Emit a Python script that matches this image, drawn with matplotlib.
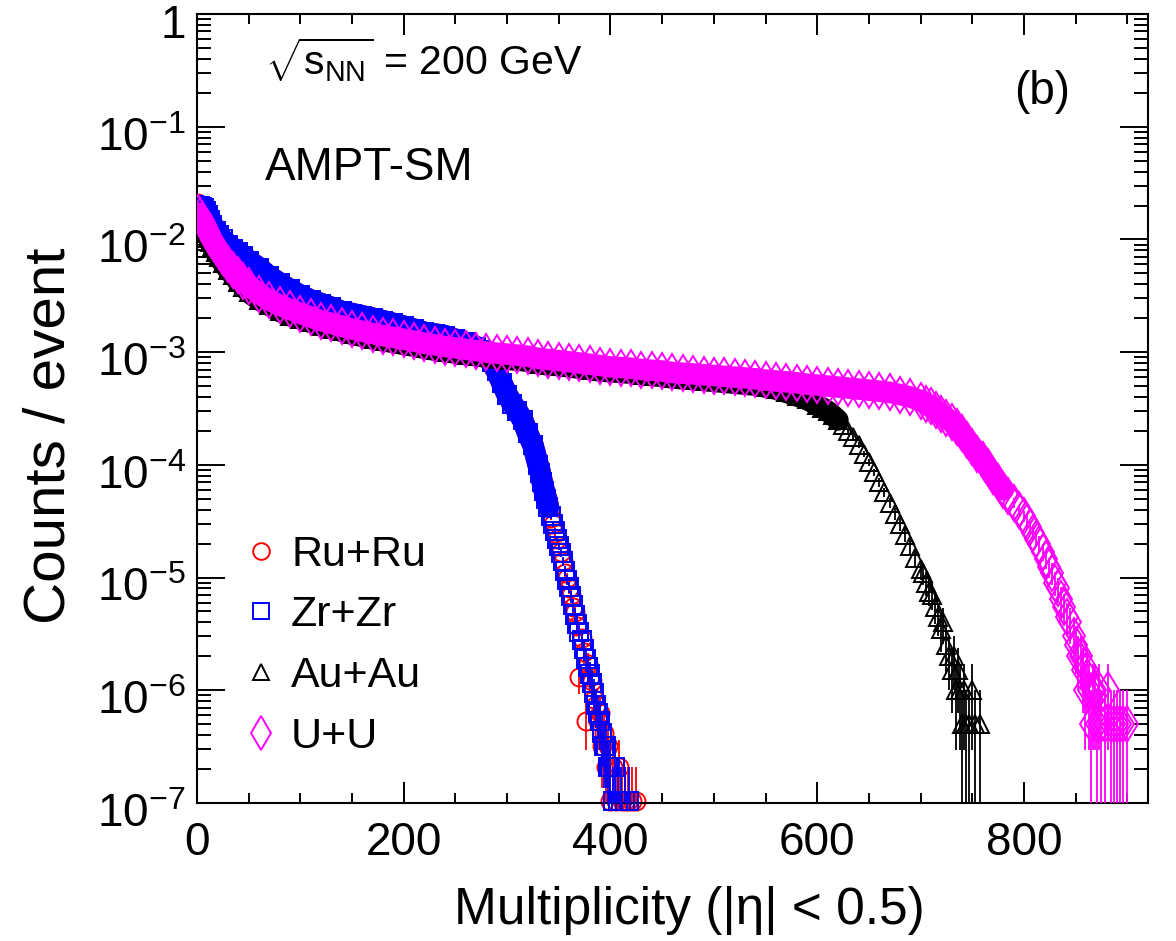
import numpy as np
import matplotlib
matplotlib.use('Agg')
import matplotlib.pyplot as plt
from matplotlib.lines import Line2D
from matplotlib.patches import Rectangle
from matplotlib.transforms import ScaledTranslation
from matplotlib.ticker import MultipleLocator, LogLocator, FixedLocator, FuncFormatter, NullFormatter

plt.rcParams['font.family'] = ['Liberation Sans', 'DejaVu Sans']
plt.rcParams['mathtext.fontset'] = 'custom'
plt.rcParams['mathtext.rm'] = 'Liberation Sans'
plt.rcParams['mathtext.it'] = 'Liberation Sans:italic'
plt.rcParams['mathtext.sf'] = 'Liberation Sans'

# multiplicity distributions, counts per event
ru_mult = [1, 3, 5, 7, 9, 11, 13, 15, 18, 21, 25, 30, 35, 40, 45, 50, 60, 70, 80, 90,
           100, 110, 120, 130, 140, 150, 160, 170, 180, 190, 200, 210, 220, 230, 240,
           250, 260, 270, 275, 280, 285, 290, 295, 300, 305, 310, 315, 320, 325,
           330, 332, 334, 336, 338, 340, 342, 344, 346, 348, 350, 352, 354, 356, 358,
           360, 362, 364, 366, 368, 370, 372, 374, 376, 378, 380, 382, 384, 386, 388,
           390, 392, 394, 396, 398, 400, 402, 405, 408, 411, 414, 417, 421, 425]
ru_counts = [0.0205, 0.0200, 0.0193, 0.0188, 0.0178, 0.0163, 0.0150, 0.0136, 0.0121, 0.0110,
             0.0100, 0.0091, 0.0083, 0.0077, 0.0071, 0.0065, 0.0056, 0.0047, 0.0041, 0.0036,
             0.0032, 0.0029, 0.0027, 0.0025, 0.0023, 0.0022, 0.0021, 0.0020, 0.0019, 0.0018,
             0.0017, 0.0016, 0.0015, 0.00145, 0.0014, 0.0013, 0.00122, 0.00112, 0.00104,
             0.00094, 0.00081, 0.00067, 0.00053, 0.00042, 0.00035, 0.00030, 0.00025,
             0.00019, 0.00015,
             1.0e-4, 8.7e-5, 7.1e-5, 5.8e-5, 5.1e-5, 4.3e-5, 3.4e-5, 3.0e-5, 2.5e-5, 2.2e-5,
             1.9e-5, 1.7e-5, 1.4e-5, 1.1e-5, 9.9e-6, 8.0e-6, 7.0e-6, 5.5e-6, 4.9e-6, 3.7e-6,
             1.3e-6, 2.9e-6, 2.2e-6, 5.3e-7, 1.7e-6, 1.3e-6, 1.2e-6, 8.4e-7, 7.4e-7, 5.3e-7,
             6.3e-7, 3.2e-7, 4.2e-7, 2.1e-7, 3.2e-7, 1.05e-7, 2.1e-7, 1.05e-7, 2.1e-7,
             1.05e-7, 1.05e-7, 1.05e-7, 1.05e-7, 1.05e-7]

zr_mult = [1, 3, 5, 7, 9, 11, 13, 15, 18, 21, 25, 30, 35, 40, 45, 50, 60, 70, 80, 90,
           100, 110, 120, 130, 140, 150, 160, 170, 180, 190, 200, 210, 220, 230, 240,
           250, 260, 270, 275, 280, 285, 290, 295, 300, 305, 310, 315, 320, 325,
           330, 332, 334, 336, 338, 340, 342, 344, 346, 348, 350, 352, 354, 356, 358,
           360, 362, 364, 366, 368, 370, 372, 374, 376, 378, 380, 382, 384, 386, 388,
           390, 392, 394, 396, 398, 400, 402, 404, 407, 410, 414, 418]
zr_counts = [0.0200, 0.0200, 0.0195, 0.0190, 0.0180, 0.0165, 0.0150, 0.0135, 0.0120, 0.0110,
             0.0100, 0.0090, 0.0083, 0.0077, 0.0071, 0.0065, 0.0056, 0.0047, 0.0041, 0.0036,
             0.0032, 0.0029, 0.0027, 0.0025, 0.0023, 0.0022, 0.0021, 0.0020, 0.0019, 0.0018,
             0.0017, 0.0016, 0.0015, 0.00145, 0.0014, 0.0013, 0.00122, 0.00112, 0.00105,
             0.00095, 0.00082, 0.00068, 0.00053, 0.00042, 0.00035, 0.00030, 0.00025,
             0.00019, 0.00015,
             1.0e-4, 8.5e-5, 7.0e-5, 5.9e-5, 5.0e-5, 4.2e-5, 3.5e-5, 3.0e-5, 2.6e-5, 2.2e-5,
             1.9e-5, 1.65e-5, 1.4e-5, 1.15e-5, 9.6e-6, 8.2e-6, 6.8e-6, 5.7e-6, 4.7e-6, 3.9e-6,
             3.3e-6, 2.8e-6, 2.3e-6, 1.9e-6, 1.6e-6, 1.4e-6, 1.15e-6, 9.4e-7, 7.4e-7, 6.3e-7,
             5.3e-7, 4.2e-7, 3.2e-7, 3.2e-7, 2.1e-7, 2.1e-7, 1.05e-7, 2.1e-7, 1.05e-7,
             1.05e-7, 1.05e-7, 1.05e-7]

au_mult = [1, 3, 5, 7, 9, 11, 13, 15, 18, 21, 25, 30, 35, 40, 45, 50, 60, 70, 80, 90,
           100, 110, 120, 130, 140, 150, 160, 170, 180, 190, 200, 210, 220, 230, 240,
           250, 260, 270, 280, 290, 300, 310, 320, 330, 340, 350, 360, 370, 380, 390,
           400, 410, 420, 430, 440, 450, 460, 470, 480, 490, 500, 510, 520, 530, 540,
           550, 560, 570, 580, 590, 600, 605, 610, 615, 620, 625, 630, 635, 640, 645,
           650, 655, 660, 665, 670, 675, 680, 685, 690, 695, 700, 702, 705, 708, 711,
           714, 717, 720, 722, 725, 727, 730, 732, 734, 736, 738, 740, 742, 744, 747,
           750, 753, 757]
au_counts = [0.0150, 0.0141, 0.0132, 0.0123, 0.0113, 0.0103, 0.0094, 0.0086, 0.0077, 0.0070,
             0.0062, 0.0054, 0.0048, 0.0042, 0.0038, 0.0034, 0.0029, 0.0026, 0.0023, 0.0021,
             0.00198, 0.00184, 0.00171, 0.00162, 0.00153, 0.00144, 0.00138, 0.00131, 0.00126,
             0.00122, 0.00117, 0.00113, 0.00108, 0.00104, 0.00101, 0.00098, 0.00095, 0.00093,
             0.00090, 0.00088, 0.00086, 0.00085, 0.00083, 0.00079, 0.00077, 0.00076, 0.00074,
             0.00072, 0.00070, 0.00068, 0.00067, 0.00066, 0.00065, 0.00063, 0.00062, 0.00061,
             0.00059, 0.00058, 0.00057, 0.00056, 0.00055, 0.00054, 0.00053, 0.00052, 0.00051,
             0.00049, 0.00047, 0.00044, 0.00041, 0.00038,
             3.4e-4, 3.2e-4, 3.0e-4, 2.75e-4, 2.5e-4, 2.25e-4, 2.0e-4, 1.75e-4, 1.5e-4, 1.25e-4,
             1.05e-4, 8.6e-5, 7.0e-5, 5.7e-5, 4.6e-5, 3.7e-5, 3.0e-5, 2.4e-5, 1.9e-5, 1.5e-5,
             1.2e-5, 1.1e-5, 9e-6, 7.5e-6, 7e-6, 5.5e-6, 4.5e-6, 3.5e-6, 4e-6, 2.5e-6, 2e-6,
             1.5e-6, 2e-6, 1.0e-6, 1.5e-6, 1.0e-6, 5e-7, 1.0e-6, 5e-7, 5e-7, 1.0e-6, 5e-7, 5e-7]

u_mult = [1, 3, 5, 7, 9, 11, 13, 15, 18, 21, 25, 30, 35, 40, 45, 50, 60, 70, 80, 90,
          100, 110, 120, 130, 140, 150, 160, 170, 180, 190, 200, 210, 220, 230, 240,
          250, 260, 270, 280, 290, 300, 310, 320, 330, 340, 350, 360, 370, 380, 390,
          400, 410, 420, 430, 440, 450, 460, 470, 480, 490, 500, 510, 520, 530, 540,
          550, 560, 570, 580, 590, 600, 610, 620, 630, 640, 650, 660, 670, 680, 690,
          700, 705, 710, 715, 720, 725, 730, 735, 740, 745, 750, 755, 760, 765, 770,
          775, 780, 785, 790, 795, 800, 803, 806, 809, 812, 815, 818, 821, 824, 827,
          830, 833, 836, 839, 842, 845, 848, 850, 852, 855, 857, 859, 861, 863, 865,
          867, 869, 871, 873, 875, 878, 881, 884, 887, 890, 893, 896, 900]
u_counts = [0.0170, 0.0160, 0.0150, 0.0140, 0.0128, 0.0117, 0.0107, 0.0098, 0.0088, 0.0079,
            0.0070, 0.0061, 0.0054, 0.0048, 0.0043, 0.0039, 0.0033, 0.0029, 0.0026, 0.0024,
            0.0022, 0.00205, 0.0019, 0.0018, 0.0017, 0.0016, 0.00153, 0.00146, 0.0014,
            0.00135, 0.0013, 0.00125, 0.0012, 0.00116, 0.00112, 0.00109, 0.00106, 0.00103,
            0.00100, 0.00098, 0.00096, 0.00094, 0.00092, 0.00088, 0.00086, 0.00084, 0.00082,
            0.00080, 0.00078, 0.00076, 0.00074, 0.00073, 0.00072, 0.00070, 0.00069, 0.00068,
            0.00066, 0.00065, 0.00064, 0.00063, 0.00062, 0.00061, 0.00060, 0.00059, 0.00058,
            0.000565, 0.000555, 0.000545, 0.000535, 0.00052, 0.00051, 0.00050, 0.00049,
            0.00048, 0.00047, 0.00046, 0.00045, 0.00044, 0.00042, 0.00040,
            3.7e-4, 3.5e-4, 3.3e-4, 3.05e-4, 2.8e-4, 2.6e-4, 2.4e-4, 2.15e-4, 1.9e-4, 1.65e-4,
            1.45e-4, 1.25e-4, 1.1e-4, 9.5e-5, 8.0e-5, 7.0e-5, 6.0e-5, 5.3e-5, 4.6e-5, 4.0e-5,
            3.5e-5, 3.1e-5, 2.8e-5, 2.5e-5, 2.2e-5, 2.0e-5, 1.7e-5, 1.45e-5, 1.25e-5, 1.1e-5,
            9e-6, 8e-6, 6.5e-6, 5.5e-6, 4.5e-6, 4e-6, 3e-6, 2.5e-6, 2e-6, 2e-6, 1.5e-6, 1e-6,
            1.5e-6, 1e-6, 5e-7, 1e-6, 1e-6, 5e-7, 1e-6, 5e-7, 5e-7, 1e-6, 5e-7, 5e-7, 5e-7,
            5e-7, 5e-7, 5e-7]

# content of a single-count bin (sets the Poisson error bars)
ru_one_count = 1.05e-7
zr_one_count = 1.05e-7
au_one_count = 5e-7
u_one_count = 5e-7

y_decades = [1e-7, 1e-6, 1e-5, 1e-4, 1e-3, 1e-2, 1e-1, 1]

fig = plt.figure(figsize=(11.76, 9.41), dpi=100)
ax = fig.add_axes([0.1675, 0.1467, 0.8087, 0.8384])
ax.set_yscale('log')
ax.set_xlim(0, 920)
ax.set_ylim(1e-7, 1)

# markers may hang below the frame, like ROOT does, but not past the sides
marker_clip = Rectangle((0, -0.05), 1, 1.1, transform=ax.transAxes, facecolor='none', edgecolor='none')
ax.add_patch(marker_clip)


def draw_system(mult, counts, one_count, color, marker, ms, band_above, z):
    mult = np.asarray(mult, dtype=float)
    counts = np.asarray(counts, dtype=float)
    dense = counts >= band_above
    # bins are one unit wide, so where statistics are high the markers merge into a band
    ax.plot(mult[dense], counts[dense], '-', color=color, lw=15.5,
            solid_joinstyle='round', solid_capstyle='round', zorder=z)
    err = np.sqrt(counts * one_count)
    lower = np.minimum(err, counts * (1 - 1e-6))
    ax.errorbar(mult, counts, yerr=[lower, err], fmt='none', ecolor=color,
                elinewidth=1.3, capsize=0, zorder=z)
    pts, = ax.plot(mult, counts, linestyle='none', marker=marker, ms=ms, mfc='none',
                   mec=color, mew=1.4, zorder=z + 0.5)
    pts.set_clip_path(marker_clip)


draw_system(ru_mult, ru_counts, ru_one_count, 'red', 'o', 13, 4e-5, 2)
draw_system(zr_mult, zr_counts, zr_one_count, 'blue', 's', 12.5, 4e-5, 3)
draw_system(au_mult, au_counts, au_one_count, 'black', '^', 13, 2.5e-4, 4)
draw_system(u_mult, u_counts, u_one_count, 'magenta', 'd', 18, 6e-5, 5)

ax.xaxis.set_major_locator(MultipleLocator(200))
ax.xaxis.set_minor_locator(MultipleLocator(50))
ax.yaxis.set_major_locator(FixedLocator(y_decades))
ax.yaxis.set_minor_locator(LogLocator(base=10, subs=np.arange(2, 10), numticks=20))
ax.yaxis.set_minor_formatter(NullFormatter())
ax.yaxis.set_major_formatter(FuncFormatter(
    lambda v, pos: '1' if abs(v - 1) < 1e-9 else r'$\mathdefault{10^{%d}}$' % round(np.log10(v))))

ax.tick_params(which='both', direction='in', top=True, right=True, width=1.4, labelsize=33)
ax.tick_params(axis='x', which='major', length=15, pad=13)
ax.tick_params(axis='x', which='minor', length=7.5)
ax.tick_params(axis='y', which='major', length=20, pad=8)
ax.tick_params(axis='y', which='minor', length=10)
for sp in ax.spines.values():
    sp.set_linewidth(1.5)

# y labels sit a little below their ticks
label_drop = ScaledTranslation(0, -5 / 72, fig.dpi_scale_trans)
for lab in ax.get_yticklabels():
    lab.set_transform(lab.get_transform() + label_drop)

ax.set_xlabel('Multiplicity (|η| < 0.5)', fontsize=37)
ax.set_ylabel('Counts / event', fontsize=42)
ax.xaxis.set_label_coords(0.518, -0.136)
ax.xaxis.label.set_va('center')
ax.yaxis.set_label_coords(-0.155, 0.466)
ax.yaxis.label.set_va('center')

ax.text(0.0715, 0.942, r'$\sqrt{\mathrm{s}_{\mathrm{NN}}}$ = 200 GeV', transform=ax.transAxes,
        fontsize=29.5, va='center', ha='left')
ax.text(0.0715, 0.805, 'AMPT-SM', transform=ax.transAxes, fontsize=33, va='center', ha='left')
ax.text(0.889, 0.901, '(b)', transform=ax.transAxes, fontsize=33, va='center', ha='center')

handles = [
    Line2D([], [], linestyle='none', marker='o', ms=12, mfc='none', mec='red', mew=1.4),
    Line2D([], [], linestyle='none', marker='s', ms=11.5, mfc='none', mec='blue', mew=1.4),
    Line2D([], [], linestyle='none', marker='^', ms=12, mfc='none', mec='black', mew=1.4),
    Line2D([], [], linestyle='none', marker='d', ms=17, mfc='none', mec='magenta', mew=1.4),
]
ax.legend(handles, ['Ru+Ru', 'Zr+Zr', 'Au+Au', 'U+U'], loc='upper left',
          bbox_to_anchor=(0.031, 0.362), frameon=False, fontsize=31, handlelength=0.8,
          handletextpad=0.3, labelspacing=0.48, borderaxespad=0)

fig.savefig('out.png', dpi=100)
